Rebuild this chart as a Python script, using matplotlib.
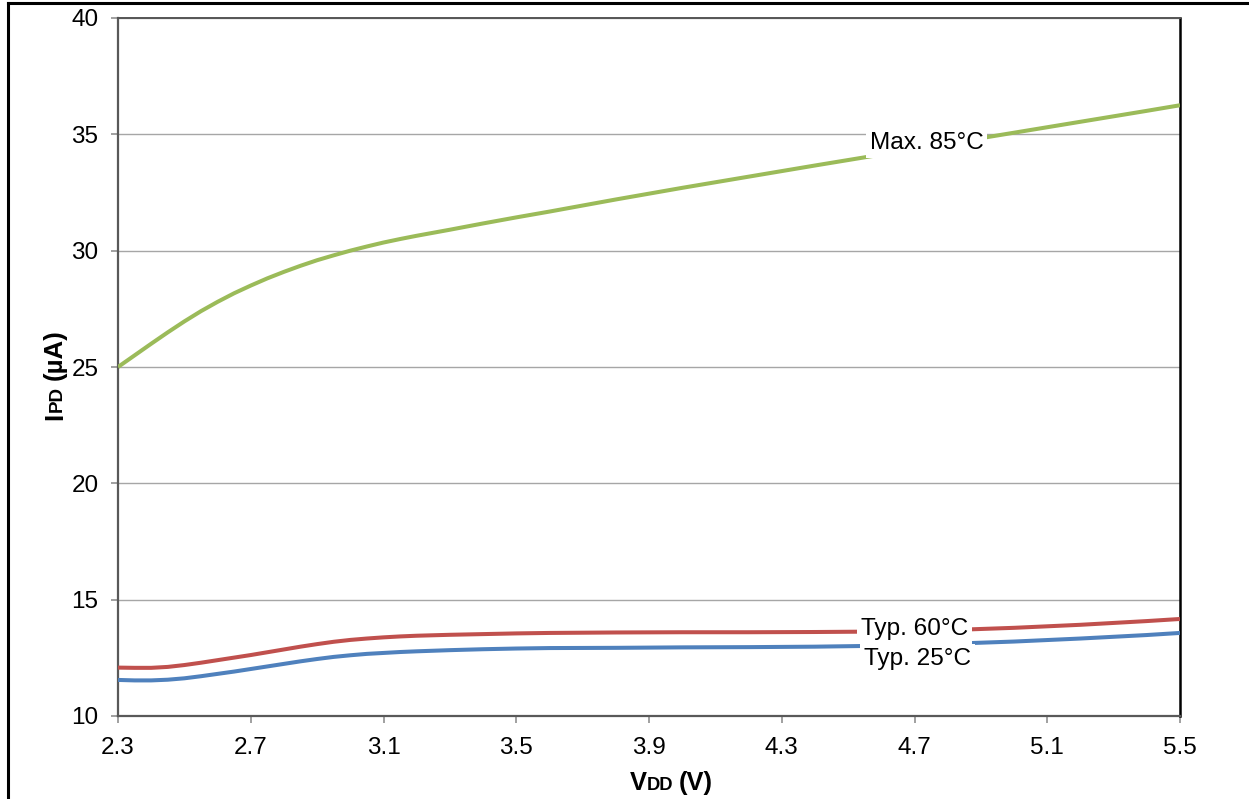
import numpy as np
import matplotlib
matplotlib.use('Agg')
import matplotlib.pyplot as plt
from matplotlib.transforms import IdentityTransform
from matplotlib.lines import Line2D

plt.rcParams['font.family'] = ['Liberation Sans', 'DejaVu Sans']

# supply voltage (V)
vdd = [2.3, 2.35, 2.4, 2.45, 2.5, 2.55, 2.6, 2.65, 2.7, 2.75, 2.8, 2.85, 2.9, 2.95,
       3.0, 3.05, 3.1, 3.15, 3.2, 3.3, 3.4, 3.5, 3.6, 3.8, 4.0, 4.2, 4.4, 4.6,
       4.8, 5.0, 5.2, 5.4, 5.5]
# power-down current (uA)
max_85 = [25.0, 25.5, 26.0, 26.49, 26.96, 27.4, 27.8, 28.17, 28.5, 28.81, 29.09, 29.35,
          29.59, 29.8, 30.0, 30.18, 30.35, 30.5, 30.64, 30.9, 31.17, 31.43, 31.68,
          32.2, 32.7, 33.18, 33.66, 34.13, 34.6, 35.07, 35.54, 36.01, 36.25]
typ_60 = [12.08, 12.07, 12.07, 12.11, 12.19, 12.29, 12.4, 12.51, 12.62, 12.74, 12.86,
          12.98, 13.09, 13.19, 13.27, 13.33, 13.38, 13.42, 13.45, 13.49, 13.52, 13.55,
          13.57, 13.59, 13.6, 13.6, 13.61, 13.63, 13.69, 13.79, 13.92, 14.08, 14.17]
typ_25 = [11.55, 11.53, 11.53, 11.56, 11.62, 11.71, 11.81, 11.91, 12.02, 12.13, 12.24,
          12.35, 12.45, 12.54, 12.61, 12.67, 12.71, 12.75, 12.78, 12.83, 12.87, 12.9,
          12.92, 12.93, 12.95, 12.96, 12.98, 13.02, 13.1, 13.2, 13.33, 13.48, 13.57]

xticks = [2.3, 2.7, 3.1, 3.5, 3.9, 4.3, 4.7, 5.1, 5.5]
xticklabels = ['2.3', '2.7', '3.1', '3.5', '3.9', '4.3', '4.7', '5.1', '5.5']
yticks = [10, 15, 20, 25, 30, 35, 40]

fig = plt.figure(figsize=(12.49, 7.99), dpi=100)
ax = fig.add_axes([118/1249, 83/799, 1062/1249, 698/799])

ax.plot(vdd, max_85, color='#9bbb59', lw=2.9, solid_capstyle='butt', solid_joinstyle='round', zorder=3)
ax.plot(vdd, typ_60, color='#c0504d', lw=2.9, solid_capstyle='butt', solid_joinstyle='round', zorder=3)
ax.plot(vdd, typ_25, color='#4f81bd', lw=2.9, solid_capstyle='butt', solid_joinstyle='round', zorder=3)

ax.set_xlim(2.3, 5.5)
ax.set_ylim(10, 40)
ax.set_xticks(xticks)
ax.set_xticklabels(xticklabels)
ax.set_yticks(yticks)
ax.tick_params(axis='both', labelsize=17.5, color='#868686', width=1.1, length=5, direction='out')
ax.tick_params(axis='y', pad=9)
ax.tick_params(axis='x', pad=10)
ax.grid(axis='y', color='#a6a6a6', lw=1.0, zorder=1)
ax.set_axisbelow(True)

ax.spines['left'].set_color('#595959')
ax.spines['bottom'].set_color('#595959')
ax.spines['left'].set_linewidth(1.6)
ax.spines['bottom'].set_linewidth(1.6)
ax.spines['top'].set_color('#555555')
ax.spines['top'].set_linewidth(1.4)
ax.spines['right'].set_color('black')
ax.spines['right'].set_linewidth(1.8)

# curve labels with white boxes over the lines
box = dict(boxstyle='square,pad=0.15', fc='white', ec='none')
ax.text(4.737, 34.37, 'Max. 85°C', fontsize=17.6, ha='center', va='baseline', bbox=box, zorder=5)
ax.text(4.709, 12.19, 'Typ. 25°C', fontsize=17.6, ha='center', va='baseline', bbox=box, zorder=5)
ax.text(4.70, 13.48, 'Typ. 60°C', fontsize=17.6, ha='center', va='baseline', bbox=box, zorder=6)

# outer frame
fig.add_artist(Line2D([7.5/1249, 7.5/1249], [0, 796/799], color='black', lw=2.2))
fig.add_artist(Line2D([7.5/1249, 1], [796/799, 796/799], color='black', lw=2.2))


def rich_label(parts, center, base, vertical=False, gap=0):
    # parts: (text, size); drawn in pixels so the small-caps pieces sit on one baseline
    r = fig.canvas.get_renderer()
    texts = []
    for s, size in parts:
        t = fig.text(0, 0, s, fontsize=size, fontweight='bold', transform=IdentityTransform(),
                     rotation=90 if vertical else 0, rotation_mode='anchor',
                     ha='left', va='baseline')
        texts.append(t)
    sizes = []
    for t in texts:
        bb = t.get_window_extent(r)
        sizes.append(bb.height if vertical else bb.width)
    total = sum(sizes) + gap
    pos = center - total / 2
    for i, t in enumerate(texts):
        if i == len(texts) - 1:
            pos += gap
        if vertical:
            t.set_position((base, pos))
        else:
            t.set_position((pos, base))
        pos += sizes[i] + 0.5


rich_label([('V', 18.4), ('DD', 13.2), ('(V)', 18.4)], 671, 9, gap=5)
rich_label([('I', 18.6), ('PD', 13.5), ('(µA)', 18.6)], 424, 62, vertical=True, gap=5)

fig.savefig('out.png', dpi=100)
